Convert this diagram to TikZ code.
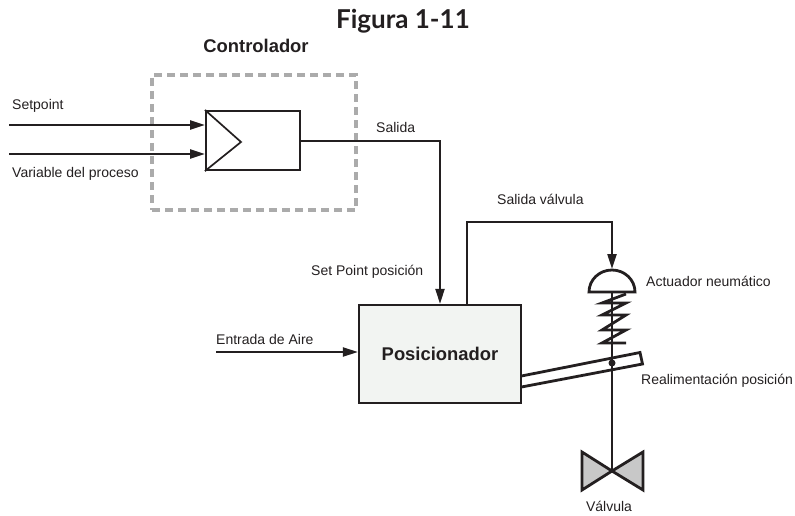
\documentclass[tikz,border=0pt]{standalone}
\usepackage{fontspec}
\setmainfont{Liberation Sans}
\newfontfamily\titlefont{Lato}
\usepackage{xcolor}
\usetikzlibrary{positioning, arrows.meta, calc}
\definecolor{linegray}{HTML}{231F20}
\definecolor{dashgray}{HTML}{ABABAB}
\definecolor{boxgray}{HTML}{F2F4F2}
\definecolor{valvegray}{HTML}{C8C8C8}
\tikzset{
  wire/.style={draw=linegray, line width=2.2pt},
  thick wire/.style={draw=linegray, line width=2.8pt},
  flow/.style={wire, -{Triangle[length=15pt,width=9pt]}},
  tag/.style={font=\fontsize{14}{16}\selectfont, text=linegray, inner sep=0pt, anchor=base west},
}
\begin{document}
\begin{tikzpicture}[x=1pt, y=-1pt]
    \useasboundingbox (0,0) rectangle (795,516);
    % titles
    \node[font=\titlefont\bfseries\fontsize{26}{28}\selectfont, text=linegray, inner sep=0pt] (title) at (403,21) {Figura 1-11};
    \node[font=\bfseries\fontsize{18.4}{20}\selectfont, text=linegray, inner sep=0pt] (controllertitle) at (256,46) {Controlador};
    % controller
    \node[draw=dashgray, line width=3.2pt, dash pattern=on 8pt off 5pt, minimum width=204pt, minimum height=135pt, inner sep=0pt] (dashbox) at (254,142.5) {};
    \node[wire, draw, minimum width=94pt, minimum height=59pt, inner sep=0pt] (controller) at (253,140.5) {};
    \coordinate (apex) at (241,142);
    \draw[wire, line width=1.7pt] (controller.north west) -- (apex) -- (controller.south west);
    \coordinate (setpointin) at (9,125);
    \coordinate (setpointend) at (205,125);
    \coordinate (variablein) at (9,154);
    \coordinate (variableend) at (205,154);
    \draw[flow] (setpointin) -- (setpointend);
    \draw[flow] (variablein) -- (variableend);
    \node[tag] (setpointlabel) at (12,110) {Setpoint};
    \node[tag] (variablelabel) at (12,178) {Variable del proceso};
    % positioner
    \node[wire, draw, fill=boxgray, minimum width=162pt, minimum height=98pt, inner sep=0pt, font=\bfseries\fontsize{18.4}{20}\selectfont, text=linegray] (positioner) at (440,354) {Posicionador};
    \coordinate (outcorner) at (440,141);
    \coordinate (controllerout) at (300,141);
    \draw[flow] (controllerout) -- (outcorner) -- (positioner.north -| outcorner);
    \node[tag] (salidalabel) at (376,133) {Salida};
    \node[tag] (spposlabel) at (311,275) {Set Point posición};
    \coordinate (airin) at (216,352);
    \draw[flow] (airin) -- (airin -| positioner.west);
    \node[tag] (airlabel) at (216,344) {Entrada de Aire};
    % valve output
    \coordinate (valveoutstart) at (467,305);
    \coordinate (valveoutup) at (467,222);
    \coordinate (valveoutright) at (612,222);
    \coordinate (domeinput) at (612,269);
    \draw[flow] (valveoutstart) -- (valveoutup) -- (valveoutright) -- (domeinput);
    \node[tag] (valveoutlabel) at (497,204) {Salida válvula};
    % actuator
    \draw[thick wire] (589,292) -- (635,292) arc (0:-180:23 and 22) -- cycle;
    \node[tag] (actuatorlabel) at (646,286) {Actuador neumático};
    \coordinate (stemtop) at (612,292);
    \coordinate (valvecentre) at (612,471);
    \draw[thick wire] (stemtop) -- (valvecentre);
    \draw[thick wire] (626,294) -- (602,303) -- (626,303) -- (602,315) -- (626,315) -- (602,330) -- (626,330) -- (602,343) -- (626,343);
    % feedback lever
    \draw[thick wire] (521.5,376) -- (640,352.5) -- (642.5,364) -- (521.5,387);
    \fill[linegray] (612,363) circle (3.5pt);
    \node[tag] (feedbacklabel) at (641,384) {Realimentación posición};
    % valve
    \draw[thick wire, fill=valvegray, line join=miter] (valvecentre) -- (582,452) -- (582,490) -- cycle;
    \draw[thick wire, fill=valvegray, line join=miter] (valvecentre) -- (643,452) -- (643,490) -- cycle;
    \node[tag, anchor=base] (valvelabel) at (609,511) {Válvula};
\end{tikzpicture}
\end{document}
